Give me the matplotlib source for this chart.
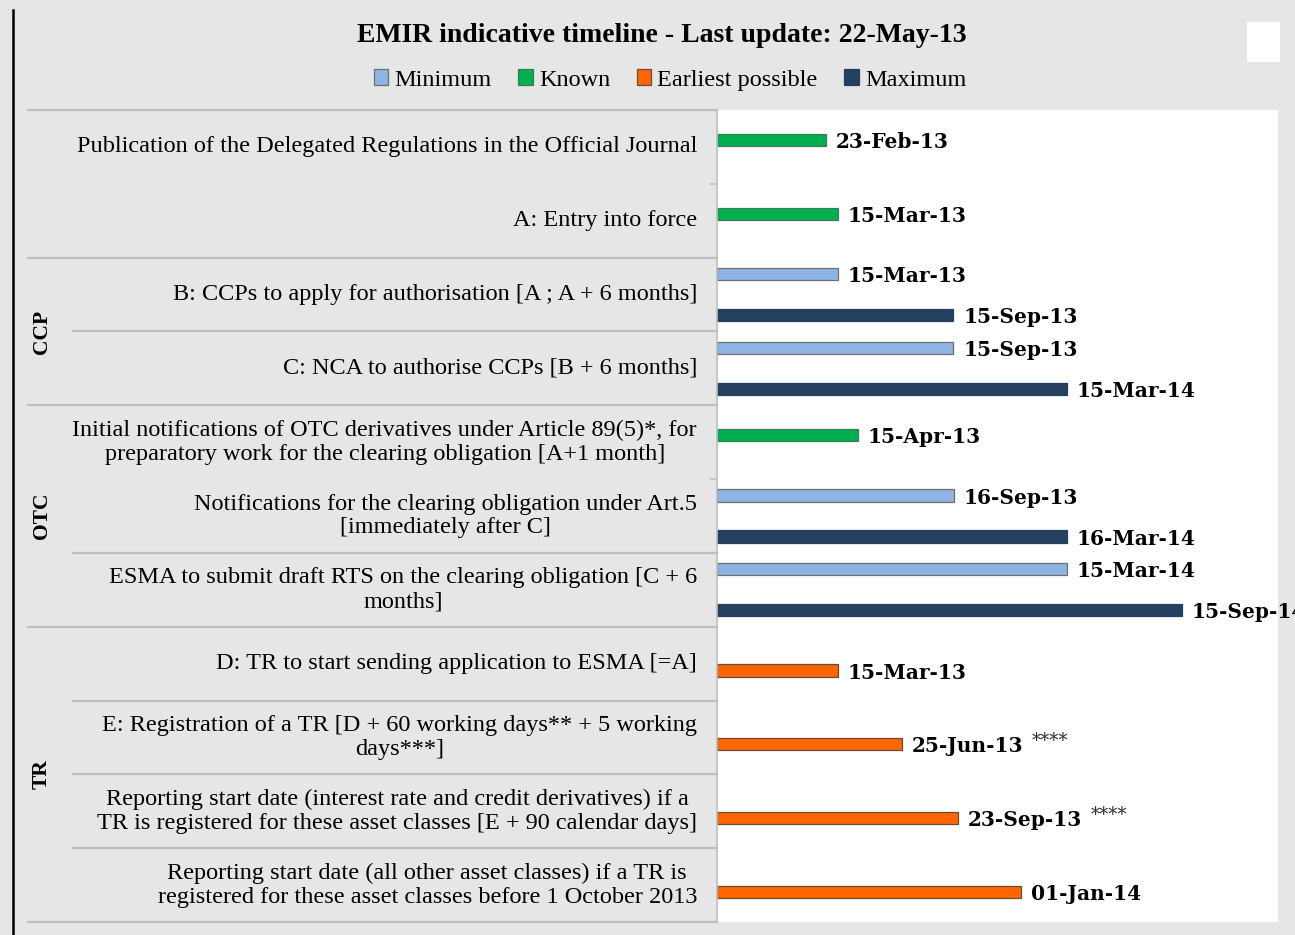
import matplotlib
matplotlib.use("Agg")
import matplotlib.pyplot as plt
import matplotlib.dates as mdates
import matplotlib.transforms as mtransforms
from matplotlib.patches import Patch, Rectangle
from matplotlib.lines import Line2D
from datetime import datetime

# Data (rows top to bottom)
categories = [
    "Publication of the Delegated Regulations in the Official Journal",
    "A: Entry into force",
    "B: CCPs to apply for authorisation [A ; A + 6 months]",
    "C: NCA to authorise CCPs [B + 6 months]",
    "Initial notifications of OTC derivatives under Article 89(5)*, for\npreparatory work for the clearing obligation [A+1 month]",
    "Notifications for the clearing obligation under Art.5\n[immediately after C]",
    "ESMA to submit draft RTS on the clearing obligation [C + 6\nmonths]",
    "D: TR to start sending application to ESMA [=A]",
    "E: Registration of a TR [D + 60 working days** + 5 working\ndays***]",
    "Reporting start date (interest rate and credit derivatives) if a\nTR is registered for these asset classes [E + 90 calendar days]",
    "Reporting start date (all other asset classes) if a TR is\nregistered for these asset classes before 1 October 2013",
]
groups = ["", "CCP", "OTC", "TR"]
group_sizes = [2, 2, 3, 4]

minimum = [None, None, "2013-03-15", "2013-09-15", None, "2013-09-16", "2014-03-15", None, None, None, None]
known = ["2013-02-23", "2013-03-15", None, None, "2013-04-15", None, None, None, None, None, None]
earliest = [None, None, None, None, None, None, None, "2013-03-15", "2013-06-25", "2013-09-23", "2014-01-01"]
maximum = [None, None, "2013-09-15", "2014-03-15", None, "2014-03-16", "2014-09-15", None, None, None, None]
notes = ["", "", "", "", "", "", "", "", "****", "****", ""]

series = [
    ("Minimum", minimum, "#8eb4e3", "#6f6f6f"),
    ("Known", known, "#00b050", "#3d7a55"),
    ("Earliest possible", earliest, "#ff6600", "#6b4a3a"),
    ("Maximum", maximum, "#243f60", "#243f60"),
]

x_start = mdates.date2num(datetime(2012, 9, 2))
x_end = mdates.date2num(datetime(2015, 2, 16))

W, H = 1295, 935
fig = plt.figure(figsize=(W / 100, H / 100), dpi=100)
fig.patch.set_facecolor("#e6e6e6")
ax = fig.add_axes([717 / W, 1 - 922 / H, (1278 - 717) / W, (922 - 110) / H])
ax.set_facecolor("white")

n = len(categories)
step = 0.185
bar_h = 0.165
for k, (name, vals, color, edge) in enumerate(series):
    off = (k - 1.5) * step
    for i, v in enumerate(vals):
        if v is None:
            continue
        d = mdates.date2num(datetime.strptime(v, "%Y-%m-%d"))
        ax.barh(i + off, d - x_start, left=x_start, height=bar_h,
                color=color, edgecolor=edge, linewidth=0.9, clip_on=False)
        txt = ax.annotate(datetime.strptime(v, "%Y-%m-%d").strftime("%d-%b-%y"),
                          xy=(d, i + off), xytext=(7, -1.5), textcoords="offset points",
                          ha="left", va="center", fontsize=14.5, fontweight="bold",
                          family="DejaVu Serif", annotation_clip=False)
        if notes[i]:
            ax.annotate(notes[i], xy=(1, 1), xycoords=txt, xytext=(6, 3),
                        textcoords="offset points", ha="left", va="top",
                        fontsize=13, family="DejaVu Serif", color="#333333")

ax.set_xlim(x_start, x_end)
ax.set_ylim(n - 0.5, -0.5)
ax.set_xticks([])
ax.set_yticks([i + 0.5 for i in range(-1, n)])
ax.set_yticklabels([])
ax.tick_params(axis="y", length=5, color="#bfbfbf", width=1.2)
for s in ["top", "right", "bottom"]:
    ax.spines[s].set_visible(False)
ax.spines["left"].set_color("#bfbfbf")
ax.spines["left"].set_linewidth(1.2)

trans = mtransforms.blended_transform_factory(ax.transAxes, ax.transData)
x_full = (28 - 717) / (1278 - 717)
x_inner = (73 - 717) / (1278 - 717)
x_label = (697 - 717) / (1278 - 717)
x_group = (42 - 717) / (1278 - 717)

# Category labels
for i, c in enumerate(categories):
    ax.text(x_label, i, c, transform=trans, ha="right", va="center",
            multialignment="center", fontsize=17.5, family="Liberation Serif",
            linespacing=1.18)

# Separators: full lines between groups, shorter ones inside groups
full_lines = [-0.5]
pos = -0.5
for g, size in zip(groups, group_sizes):
    pos += size
    full_lines.append(pos)
    ax.text(x_group, pos - size / 2, g, transform=trans, rotation=90,
            ha="center", va="center", fontsize=15.5, fontweight="bold",
            family="Liberation Serif")
inner_lines = [2.5, 5.5, 7.5, 8.5, 9.5]
for y in full_lines:
    ax.add_line(Line2D([x_full, 0], [y, y], transform=trans, color="#bfbfbf",
                       lw=1.6, clip_on=False))
for y in inner_lines:
    ax.add_line(Line2D([x_inner, 0], [y, y], transform=trans, color="#bfbfbf",
                       lw=1.6, clip_on=False))

# Title and legend
fig.text(662 / W, 1 - 35 / H, "EMIR indicative timeline - Last update: 22-May-13",
         ha="center", va="center", fontsize=20, fontweight="bold",
         family="Liberation Serif")
handles = [Patch(facecolor=c, edgecolor=e, linewidth=0.9) for _, _, c, e in series]
fig.legend(handles, [s[0] for s in series], loc="center",
           bbox_to_anchor=(670 / W, 1 - 80 / H), ncol=4, frameon=False,
           handlelength=0.6, handleheight=0.6, handletextpad=0.25,
           columnspacing=1.1, prop={"family": "Liberation Serif", "size": 17.5})

# Frame decorations
fig.add_artist(Line2D([12.5 / W, 12.5 / W], [0, 1 - 10 / H], color="black", lw=1.8))
fig.add_artist(Rectangle((1247 / W, 1 - 62 / H), 33 / W, 40 / H,
                         facecolor="white", edgecolor="none"))

fig.savefig("out.png", dpi=100, facecolor=fig.get_facecolor())
